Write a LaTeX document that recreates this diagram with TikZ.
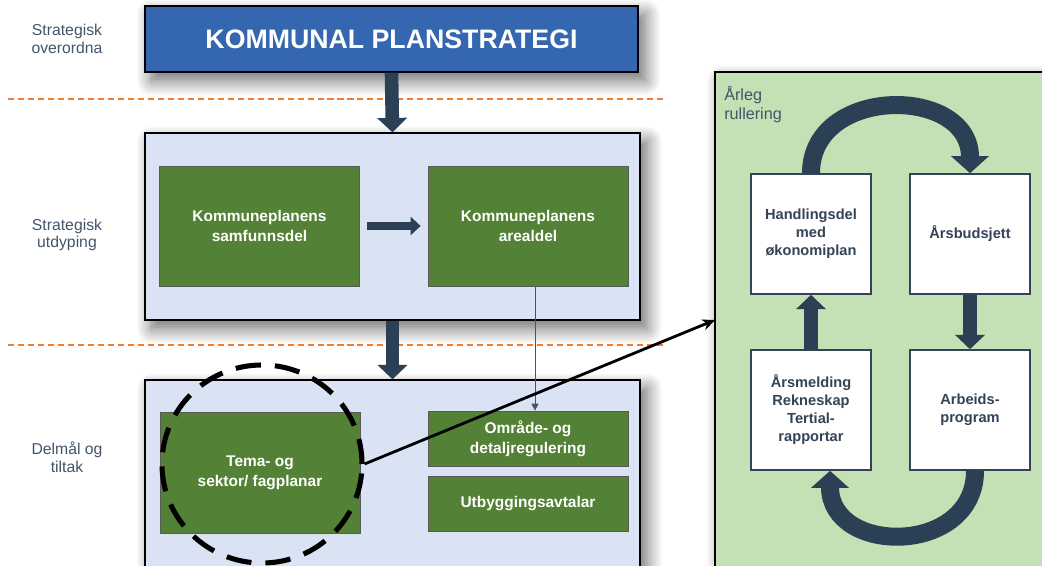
\documentclass[tikz,border=0pt]{standalone}
\usepackage{fontspec}
\setmainfont{Liberation Sans}
\usepackage{tikz}
\usetikzlibrary{arrows.meta,positioning,shapes.geometric,shadows.blur}
\usepackage{xcolor}

\definecolor{ksblue}{RGB}{53,102,176}
\definecolor{panelblue}{RGB}{218,227,243}
\definecolor{plangreen}{RGB}{83,129,53}
\definecolor{rullgreen}{RGB}{197,224,180}
\definecolor{arrowslate}{RGB}{43,64,84}
\definecolor{labelslate}{RGB}{68,84,106}
\definecolor{boxslate}{RGB}{50,68,86}
\definecolor{dashorange}{RGB}{237,125,49}

\begin{document}
\begin{tikzpicture}[x=0.025cm, y=-0.025cm,
    softshadow/.style={blur shadow={shadow blur steps=12, shadow blur radius=11pt, shadow xshift=5pt, shadow yshift=-6pt, shadow opacity=60}},
    topblock/.style={rectangle, draw=black, line width=0.9pt, fill=ksblue, text=white, minimum width=12.325cm, minimum height=1.65cm, font=\fontsize{19}{22}\selectfont\bfseries, softshadow},
    levelpanel/.style={rectangle, draw=black, line width=0.9pt, fill=panelblue, minimum width=12.375cm, softshadow},
    planblock/.style={rectangle, draw=black!65, line width=0.5pt, fill=plangreen, text=white, minimum width=5cm, align=center, font=\fontsize{11}{14.2}\selectfont\bfseries},
    cycleblock/.style={rectangle, draw=boxslate, line width=1.1pt, fill=white, text=boxslate, minimum width=3cm, minimum height=3cm, align=center, font=\fontsize{10.4}{12.8}\selectfont\bfseries},
    bigarrow/.style={draw=arrowslate, line width=0.34cm, -{Triangle[width=0.73cm, length=0.36cm]}},
    bendarrow/.style={draw=arrowslate, line width=0.45cm, -{Triangle[width=0.93cm, length=0.43cm]}},
    levellabel/.style={text=labelslate, align=center, font=\fontsize{11.2}{12.5}\selectfont},
    divider/.style={draw=dashorange, line width=0.9pt, dash pattern=on 4.3pt off 2.8pt},
]
    \useasboundingbox (0,0) rectangle (1042,566);
    \clip (0,0) rectangle (1042,566);

    % Level labels (left side)
    \node[levellabel] (l1) at (67, 39) {Strategisk\\overordna};
    \node[levellabel] (l2) at (67, 235) {Strategisk\\utdyping};
    \node[levellabel] (l3) at (67, 457) {Delmål og\\tiltak};

    % Planning levels
    \node[topblock] (ks) at (391.5, 39) {KOMMUNAL PLANSTRATEGI};
    \node[levelpanel, minimum height=4.675cm] (mp) at (392.5, 226.5) {};
    \node[levelpanel, minimum height=5.75cm] (bp) at (392.5, 495) {};

    \node[planblock, minimum height=3cm] (sd) at (259.5, 226) {Kommuneplanens\\samfunnsdel};
    \node[planblock, minimum height=3cm] (ad) at (528, 226) {Kommuneplanens\\arealdel};
    \node[planblock, minimum height=3.025cm] (tp) at (260, 472.5) {Tema- og\\sektor/ fagplanar};
    \node[planblock, minimum height=1.375cm] (od) at (528, 438.5) {Område- og\\detaljregulering};
    \node[planblock, minimum height=1.375cm] (ua) at (528, 503.5) {Utbyggingsavtalar};

    % Yearly cycle (right side)
    \node[rectangle, draw=black, line width=1.2pt, fill=rullgreen, minimum width=8.3cm, minimum height=13.3cm, softshadow] (ar) at (881, 338) {};
    \node[anchor=north west, inner sep=0pt, align=left, text=labelslate, font=\fontsize{11.5}{13.5}\selectfont] (art) at (724, 86) {Årleg\\rullering};

    \node[cycleblock] (hd) at (811, 234) {Handlingsdel\\med\\økonomiplan};
    \node[cycleblock] (ab) at (970, 234) {Årsbudsjett};
    \node[cycleblock] (am) at (811, 410) {Årsmelding\\Rekneskap\\Tertial-\\rapportar};
    \node[cycleblock] (ap) at (970, 410) {Arbeids-\\program};

    % Level dividers
    \draw[divider] (8, 99) -- (665, 99);
    \draw[divider] (8, 345) -- (665, 345);

    % Arrows between levels
    \draw[bigarrow] (ks.south) -- (mp.north);
    \draw[bigarrow] (mp.south) -- (bp.north);
    \draw[draw=arrowslate, line width=0.2cm, -{Triangle[width=0.45cm, length=0.25cm]}, shorten <=0.175cm, shorten >=0.175cm] (sd.east) -- (ad.west);
    \draw[draw=labelslate, line width=0.7pt, -{Triangle[width=5pt, length=5pt]}] ([xshift=0.175cm]ad.south) -- ([xshift=0.175cm]od.north);

    % Cycle arrows
    \draw[bendarrow] (hd.north) .. controls +(0,-88) and +(0,-88) .. (ab.north);
    \draw[bigarrow] (ab.south) -- (ap.north);
    \draw[bendarrow] ([xshift=0.125cm]ap.south) .. controls +(0,85) and +(0,85) .. ([xshift=0.475cm]am.south);
    \draw[bigarrow] (am.north) -- (hd.south);

    % Highlight of the theme plans
    \node[ellipse, draw=black, line width=3.6pt, dash pattern=on 18pt off 10pt, minimum width=5cm, minimum height=4.95cm, inner sep=0pt] (tr) at (262, 464) {};
    \coordinate (rl) at (715, 320);
    \draw[black, line width=2pt, -{Stealth[length=9pt, width=8pt]}] (tr.east) -- (rl);
\end{tikzpicture}
\end{document}
